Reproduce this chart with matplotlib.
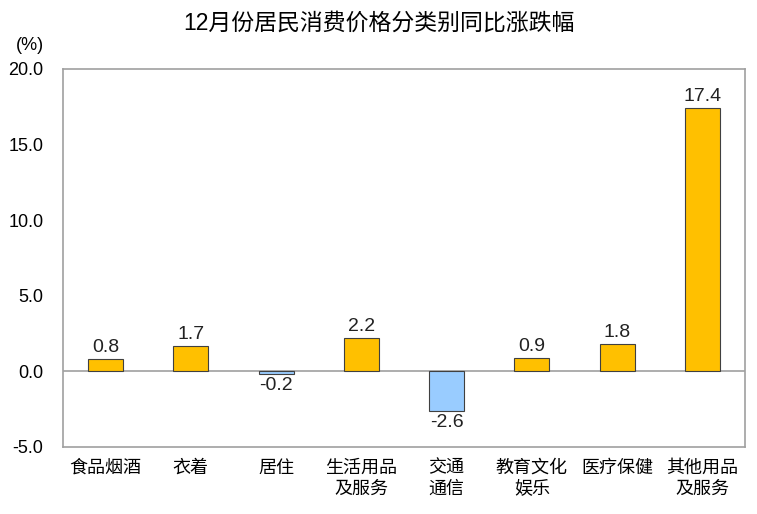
import matplotlib
matplotlib.use("Agg")
import matplotlib.pyplot as plt
import numpy as np

plt.rcParams['font.family'] = ['Liberation Sans', 'Noto Sans CJK SC', 'DejaVu Sans']

# ==========================
# Dados
# ==========================
categories = ["食品烟酒", "衣着", "居住", "生活用品\n及服务", "交通\n通信",
              "教育文化\n娱乐", "医疗保健", "其他用品\n及服务"]
values = [0.8, 1.7, -0.2, 2.2, -2.6, 0.9, 1.8, 17.4]
yticks = [-5.0, 0.0, 5.0, 10.0, 15.0, 20.0]

pos_color = "#FFC000"
neg_color = "#99CCFF"
colors = [pos_color if v >= 0 else neg_color for v in values]

# ==========================
# Figura
# ==========================
fig = plt.figure(figsize=(7.57, 5.14), dpi=100)
ax = fig.add_axes([0.0832, 0.1304, 0.9008, 0.7354])

x = np.arange(len(categories))
ax.bar(x, values, width=0.41, color=colors, edgecolor="#404040", linewidth=0.8, zorder=3)

for xi, v in zip(x, values):
    if v >= 0:
        ax.text(xi, v + 0.2, f"{v:.1f}", ha="center", va="bottom", fontsize=14, color="#222222")
    else:
        ax.text(xi, v - 0.2, f"{v:.1f}", ha="center", va="top", fontsize=14, color="#222222")

ax.axhline(0, color="#A0A0A0", linewidth=1.2, zorder=2)

ax.set_xlim(-0.5, len(categories) - 0.5)
ax.set_ylim(-5, 20)
ax.set_yticks(yticks)
ax.set_yticklabels([f"{t:.1f}" for t in yticks], fontsize=13)
ax.set_xticks(x)
ax.set_xticklabels(categories, fontsize=13, linespacing=1.3, va="top")
ax.tick_params(axis="both", length=0)
ax.tick_params(axis="y", pad=14)
ax.tick_params(axis="x", pad=9)

for s in ax.spines.values():
    s.set_color("#A0A0A0")
    s.set_linewidth(1.2)

fig.text(0.5, 0.955, "12月份居民消费价格分类别同比涨跌幅", ha="center", va="center", fontsize=16.5)
fig.text(0.04, 0.912, "(%)", ha="center", va="center", fontsize=13)

fig.savefig("out.png", dpi=100)
